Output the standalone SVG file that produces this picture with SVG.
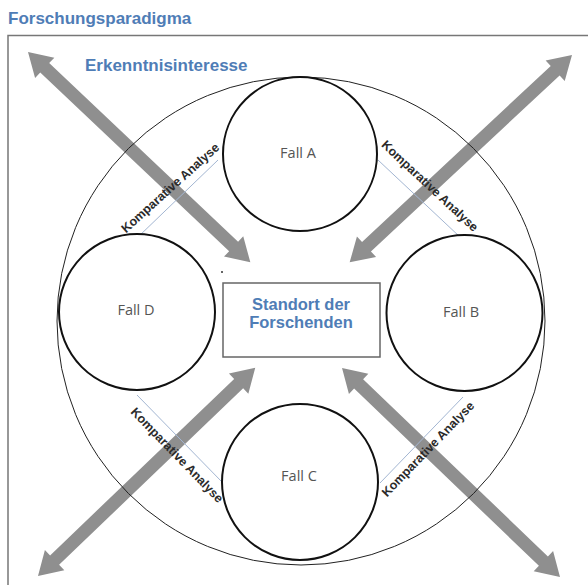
<svg xmlns="http://www.w3.org/2000/svg" width="588" height="585" viewBox="0 0 588 585">
<style>
.title{font-family:"Liberation Sans",Arial,sans-serif;font-weight:bold;font-size:17px;fill:#4f7db6}
.ctr{font-family:"Liberation Sans",Arial,sans-serif;font-weight:bold;font-size:16.5px;fill:#4f7db6;text-anchor:middle}
.fall{fill:#fff;stroke:#111;stroke-width:2}
.fl{font-family:"Open Sans","Liberation Sans",sans-serif;font-size:14.5px;fill:#555;text-anchor:middle}
.ka{font-family:"Liberation Sans",Arial,sans-serif;font-weight:bold;font-size:12.5px;fill:#2a2a2a;text-anchor:middle}
.arr{fill:#8f8f8f}
.bl{stroke:#a3b6d2;stroke-width:1;fill:none}
</style>
<rect width="588" height="585" fill="#fff"/>
<path d="M8,585 V35.5 H588" fill="none" stroke="#777" stroke-width="1.5"/>
<text class="title" x="8" y="24">Forschungsparadigma</text>
<text class="title" x="85" y="71">Erkenntnisinteresse</text>
<g id="connectors">
<path class="arr" transform="translate(28,52) rotate(43.4)" d="M0,0 L23,-14 L23,-6.5 L283,-6.5 L283,-14 L306,0 L283,14 L283,6.5 L23,6.5 L23,14 Z"/>
<path class="arr" transform="translate(572,55) rotate(137)" d="M0,0 L23,-14 L23,-6.5 L281,-6.5 L281,-14 L304,0 L281,14 L281,6.5 L23,6.5 L23,14 Z"/>
<path class="arr" transform="translate(38,576) rotate(-43.8)" d="M0,0 L23,-14 L23,-6.5 L278,-6.5 L278,-14 L301,0 L278,14 L278,6.5 L23,6.5 L23,14 Z"/>
<path class="arr" transform="translate(560,577) rotate(-136.2)" d="M0,0 L23,-14 L23,-6.5 L279,-6.5 L279,-14 L302,0 L279,14 L279,6.5 L23,6.5 L23,14 Z"/>
<line class="bl" x1="218" y1="160" x2="138" y2="237"/>
<line class="bl" x1="378" y1="160" x2="460" y2="237"/>
<line class="bl" x1="137" y1="395" x2="222" y2="482"/>
<line class="bl" x1="463" y1="397" x2="380" y2="483"/>
<text class="ka" transform="translate(173,191) rotate(-42)">Komparative Analyse</text>
<text class="ka" transform="translate(427,189) rotate(43)">Komparative Analyse</text>
<text class="ka" transform="translate(174,458) rotate(46)">Komparative Analyse</text>
<text class="ka" transform="translate(431,452) rotate(-46)">Komparative Analyse</text>
</g>
<g id="erkenntnisinteresse">
<circle cx="301" cy="321" r="244" fill="none" stroke="#222" stroke-width="1"/>
</g>
<g id="fallA"><circle class="fall" cx="300" cy="154" r="77"/><text class="fl" x="298" y="158">Fall A</text></g>
<g id="fallB"><circle class="fall" cx="464.5" cy="313" r="78"/><text class="fl" x="461" y="317">Fall B</text></g>
<g id="fallC"><circle class="fall" cx="300" cy="482" r="78"/><text class="fl" x="299" y="481">Fall C</text></g>
<g id="fallD"><circle class="fall" cx="137" cy="312" r="78"/><text class="fl" x="136" y="315">Fall D</text></g>
<circle cx="222" cy="272" r="1" fill="#333"/>
<g id="standort">
<rect x="223" y="283" width="157" height="74" fill="#fff" stroke="#666" stroke-width="1.5"/>
<text class="ctr" x="301" y="310">Standort der</text>
<text class="ctr" x="301" y="328">Forschenden</text>
</g>
</svg>
